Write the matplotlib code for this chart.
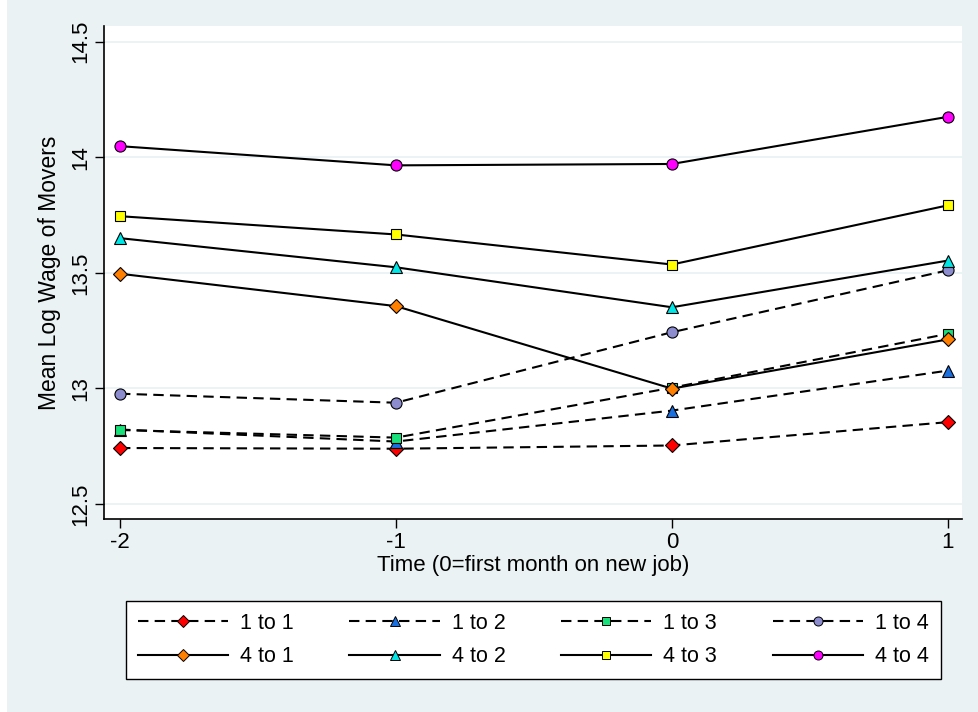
import numpy as np
import matplotlib
matplotlib.use("Agg")
import matplotlib.pyplot as plt
from matplotlib.lines import Line2D
from matplotlib.patches import Rectangle

plt.rcParams['font.family'] = ['Liberation Sans', 'DejaVu Sans']

# data
months = [-2, -1, 0, 1]
labels = ["1 to 1", "1 to 2", "1 to 3", "1 to 4",
          "4 to 1", "4 to 2", "4 to 3", "4 to 4"]
w_1to1 = [12.742, 12.739, 12.753, 12.854]
w_1to2 = [12.822, 12.770, 12.904, 13.077]
w_1to3 = [12.820, 12.787, 13.003, 13.236]
w_1to4 = [12.977, 12.938, 13.243, 13.511]
w_4to1 = [13.496, 13.356, 12.999, 13.212]
w_4to2 = [13.650, 13.524, 13.351, 13.553]
w_4to3 = [13.745, 13.666, 13.536, 13.792]
w_4to4 = [14.048, 13.965, 13.971, 14.175]
series = [w_1to1, w_1to2, w_1to3, w_1to4, w_4to1, w_4to2, w_4to3, w_4to4]

yticks = [12.5, 13, 13.5, 14, 14.5]
ytick_labels = ["12.5", "13", "13.5", "14", "14.5"]
xticks = [-2, -1, 0, 1]

colors = ["#FF0000", "#1A6FE0", "#19E07A", "#8C8CCF",
          "#FF7F00", "#00E5E5", "#FFFF00", "#FF00FF"]
markers = ["D", "^", "s", "o", "D", "^", "s", "o"]
msizes = [7.5, 8.5, 7.5, 8, 7.5, 8.5, 7.5, 8]
dashed = (0, (5, 3))

bg = "#EAF2F3"
fig = plt.figure(figsize=(9.79, 7.12), dpi=100, facecolor=bg)
# thin white strip on the left edge, as in the reference image
fig.patches.append(Rectangle((0, 0), 7 / 979, 1, transform=fig.transFigure,
                             facecolor="white", edgecolor="none", zorder=0))
ax = fig.add_axes([0.1062, 0.2711, 0.8764, 0.6924])
ax.set_facecolor("white")

for y in yticks:
    ax.axhline(y, color=bg, lw=1.3, zorder=0)

handles = []
for i, (vals, lab) in enumerate(zip(series, labels)):
    ls = dashed if i < 4 else "-"
    ax.plot(months, vals, color="black", lw=1.5, ls=ls, marker=markers[i],
            markersize=msizes[i], markerfacecolor=colors[i],
            markeredgecolor="black", markeredgewidth=0.8, zorder=3)
    handles.append(Line2D([], [], color="black", lw=1.5, ls=ls,
                          marker=markers[i], markersize=msizes[i] - 1.5,
                          markerfacecolor=colors[i], markeredgecolor="black",
                          markeredgewidth=0.7, label=lab))

ax.set_xlim(-2.058, 1.051)
ax.set_ylim(12.435, 14.568)
ax.set_xticks(xticks)
ax.set_xticklabels([str(t) for t in xticks], fontsize=16)
ax.set_yticks(yticks)
ax.set_yticklabels(ytick_labels, fontsize=16, rotation=90, va="center")
ax.tick_params(length=6.5, width=1, color="black", direction="out", pad=3)
for s in ["top", "right"]:
    ax.spines[s].set_visible(False)
for s in ["left", "bottom"]:
    ax.spines[s].set_linewidth(1.2)

ax.set_ylabel("Mean Log Wage of Movers", fontsize=16.5, labelpad=6)
ax.set_xlabel("Time (0=first month on new job)", fontsize=16, labelpad=1)

# reorder so rows are 1 to x then 4 to x
order = [0, 4, 1, 5, 2, 6, 3, 7]
leg = fig.legend([handles[k] for k in order], [labels[k] for k in order],
                 ncol=4, loc="upper left",
                 bbox_to_anchor=(0.1287, 0.0463, 0.832, 0.11), mode="expand",
                 borderaxespad=0,
                 fontsize=15.5, handlelength=4.2, handletextpad=0.55,
                 columnspacing=1.0, frameon=True, fancybox=False,
                 edgecolor="black", facecolor="white", framealpha=1,
                 borderpad=0.55, labelspacing=0.6)
leg.get_frame().set_linewidth(1.0)

fig.savefig("out.png", dpi=100, facecolor=bg)
